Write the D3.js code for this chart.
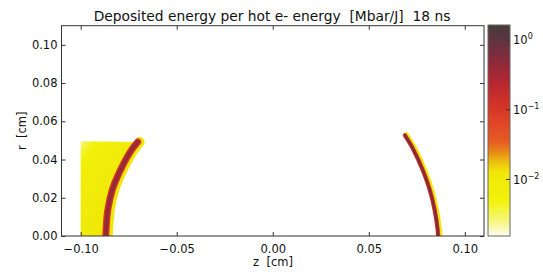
<!DOCTYPE html>
<html>
<head>
<meta charset="utf-8">
<script src="https://cdn.jsdelivr.net/npm/d3@7"></script>
<style>
  body { margin: 0; background: #fff; }
  svg { display: block; font-family: "DejaVu Sans", sans-serif; }
  text { fill: #111; }
</style>
</head>
<body>
<svg id="chart" width="543" height="273"></svg>
<script>
// axis ticks
const zTicks = [-0.10, -0.05, 0.00, 0.05, 0.10];
const rTicks = [0.00, 0.02, 0.04, 0.06, 0.08, 0.10];
const cbarTicks = [0, -1, -2];

// shell centre lines (z, r in cm)
const leftShellZ = [-0.0869, -0.0868, -0.0859, -0.0836, -0.0793, -0.0736, -0.0703];
const leftShellR = [0.0000, 0.0031, 0.0136, 0.0240, 0.0345, 0.0449, 0.0492];
const rightShellZ = [0.0861, 0.0859, 0.0843, 0.0818, 0.0781, 0.0734, 0.0688];
const rightShellR = [0.0000, 0.0031, 0.0136, 0.0240, 0.0345, 0.0449, 0.0527];

// deposited energy levels [Mbar/J]
const shellCore = [0.4, 0.55];    // left, right
const shellEdge = [0.1, 0.12];
const shellHalo = [0.012, 0.011];
const fillZ = [-0.10, -0.10];       // left edge of the pre-heated zone
const fillR = [0.0, 0.0495];
const fillLevels = [0.0025, 0.0055, 0.009, 0.012];

// colormap: log10 value -> colour
const cmapLog = [0.215, 0.0, -0.3, -0.6, -0.9, -1.2, -1.45, -1.6, -1.75, -1.9, -2.3, -2.6, -2.81];
const cmapColors = ['#463c3c', '#5e3440', '#8a2a3a', '#b42632', '#d03228', '#e04626', '#e45c22',
  '#e8861a', '#ecc010', '#f0e808', '#f2f20a', '#f6f680', '#fcfcf4'];

const svg = d3.select('#chart');
const plot = {left: 61.5, right: 484, top: 25.7, bottom: 236};

const x = d3.scaleLinear().domain([-0.11, 0.11]).range([plot.left, plot.right]);
const y = d3.scaleLinear().domain([0, 0.11]).range([plot.bottom, plot.top]);
const cmap = d3.scaleLinear().domain(cmapLog).range(cmapColors).clamp(true);
const color = (v) => cmap(Math.log10(v));

svg.append('rect').attr('width', 543).attr('height', 273).attr('fill', '#fff');

const defs = svg.append('defs');
defs.append('clipPath').attr('id', 'clip')
    .append('rect')
    .attr('x', plot.left).attr('y', plot.top)
    .attr('width', plot.right - plot.left).attr('height', plot.bottom - plot.top);

const grad = defs.append('linearGradient').attr('id', 'fillGrad')
    .attr('x1', 0).attr('y1', 0).attr('x2', 0.6).attr('y2', 0.7);
const gradOffsets = [0, 0.18, 0.45, 1];
fillLevels.forEach((v, i) => {
  grad.append('stop')
      .attr('offset', gradOffsets[i])
      .attr('stop-color', color(v));
});

const field = svg.append('g').attr('clip-path', 'url(#clip)');

// pre-heated zone behind the left shell
const leftPts = leftShellZ.map((z, i) => [z, leftShellR[i]]);
const fillPts = fillZ.map((z, i) => [z, fillR[i]])
    .concat(leftPts.slice().reverse());
field.append('path')
    .attr('d', d3.line().x((d) => x(d[0])).y((d) => y(d[1]))(fillPts) + 'Z')
    .attr('fill', 'url(#fillGrad)');

// shells
const shellLine = d3.line()
    .x((d) => x(d[0]))
    .y((d) => y(d[1]))
    .curve(d3.curveCatmullRom);

const rightPts = rightShellZ.map((z, i) => [z, rightShellR[i]]);
const shells = [
  {pts: leftPts, widths: [10, 7, 4.2], shift: 2},
  {pts: rightPts, widths: [6, 4.2, 2.4], shift: 1.3}
];

shells.forEach((s, i) => {
  const layers = [
    {w: s.widths[0], c: color(shellHalo[i]), dx: s.shift},
    {w: s.widths[1], c: color(shellEdge[i]), dx: 0},
    {w: s.widths[2], c: color(shellCore[i]), dx: 0}
  ];
  layers.forEach((l) => {
    field.append('path')
        .attr('d', shellLine(s.pts))
        .attr('transform', `translate(${l.dx},0)`)
        .attr('fill', 'none')
        .attr('stroke', l.c)
        .attr('stroke-width', l.w)
        .attr('stroke-linecap', 'round');
  });
});

// axes, ticks pointing inwards on all four sides
const fmt = d3.format('.2f');
const styleAxis = (g) => {
  g.select('.domain').remove();
  g.selectAll('.tick line').attr('stroke', '#333');
  g.selectAll('.tick text').attr('font-size', 11.5).attr('fill', '#111')
      .attr('font-family', '"DejaVu Sans", sans-serif');
};

svg.append('g')
    .attr('transform', `translate(0,${plot.bottom})`)
    .call(d3.axisBottom(x).tickValues(zTicks).tickFormat(fmt).tickSizeInner(-4).tickPadding(9))
    .call(styleAxis);
svg.append('g')
    .attr('transform', `translate(0,${plot.top})`)
    .call(d3.axisTop(x).tickValues(zTicks).tickFormat('').tickSizeInner(-4))
    .call(styleAxis);
svg.append('g')
    .attr('transform', `translate(${plot.left},0)`)
    .call(d3.axisLeft(y).tickValues(rTicks).tickFormat(fmt).tickSizeInner(-4).tickPadding(4))
    .call(styleAxis);
svg.append('g')
    .attr('transform', `translate(${plot.right},0)`)
    .call(d3.axisRight(y).tickValues(rTicks).tickFormat('').tickSizeInner(-4))
    .call(styleAxis);

svg.append('rect')
    .attr('x', plot.left).attr('y', plot.top)
    .attr('width', plot.right - plot.left).attr('height', plot.bottom - plot.top)
    .attr('fill', 'none').attr('stroke', '#333').attr('stroke-width', 1);

// labels
svg.append('text')
    .attr('x', 272).attr('y', 21)
    .attr('text-anchor', 'middle').attr('font-size', 13.8)
    .style('white-space', 'pre')
    .text('Deposited energy per hot e- energy  [Mbar/J]  18 ns');
svg.append('text')
    .attr('x', 273).attr('y', 266)
    .attr('text-anchor', 'middle').attr('font-size', 11.5)
    .style('white-space', 'pre')
    .text('z  [cm]');
svg.append('text')
    .attr('transform', `translate(26,${(plot.top + plot.bottom) / 2}) rotate(-90)`)
    .attr('text-anchor', 'middle').attr('font-size', 11.5)
    .style('white-space', 'pre')
    .text('r  [cm]');

// colorbar
const cb = {left: 488, right: 510, top: 25, bottom: 236};
const cy = d3.scaleLinear().domain([cmapLog[cmapLog.length - 1], cmapLog[0]]).range([cb.bottom, cb.top]);
const cbar = svg.append('g');
const steps = d3.range(cb.top, cb.bottom, 1);
cbar.selectAll('rect.step').data(steps).enter().append('rect')
    .attr('class', 'step')
    .attr('x', cb.left).attr('y', (d) => d)
    .attr('width', cb.right - cb.left).attr('height', 1.2)
    .attr('fill', (d) => cmap(cy.invert(d + 0.5)));
cbar.append('rect')
    .attr('x', cb.left).attr('y', cb.top)
    .attr('width', cb.right - cb.left).attr('height', cb.bottom - cb.top)
    .attr('fill', 'none').attr('stroke', '#666').attr('stroke-width', 1);

cbarTicks.forEach((t) => {
  const ty = cy(t);
  cbar.append('line')
      .attr('x1', cb.right - 4).attr('x2', cb.right)
      .attr('y1', ty).attr('y2', ty)
      .attr('stroke', '#333');
  const lbl = cbar.append('text')
      .attr('x', cb.right + 3).attr('y', ty + 4)
      .attr('font-size', 11.5);
  lbl.append('tspan').text('10');
  lbl.append('tspan').attr('dy', -5).attr('font-size', 8).text(t === 0 ? '0' : '\u2212' + (-t));
});
</script>
</body>
</html>
